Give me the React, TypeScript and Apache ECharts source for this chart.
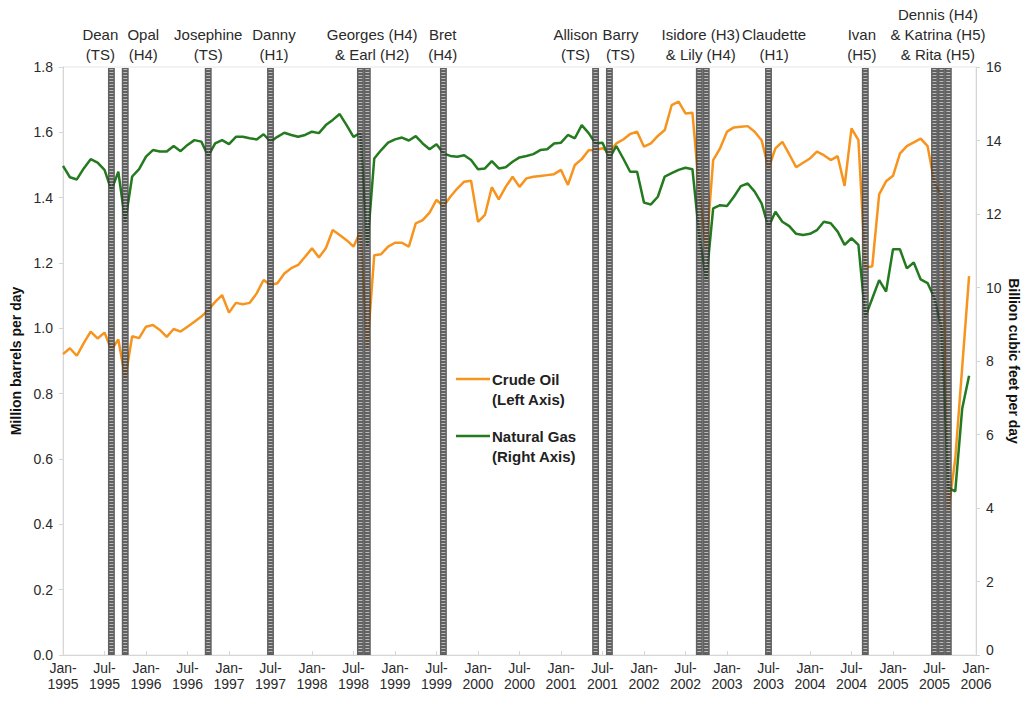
import React, { useEffect, useRef } from "react";
import * as echarts from "echarts";

const START_YEAR = 1995;
const X_MAX_MONTH = 132; // Jan-2006

// Monthly production, Jan-1995 .. Dec-2005
const crudeOil = [
  0.921, 0.939, 0.916, 0.955, 0.99, 0.969, 0.987, 0.934, 0.966, 0.847, 0.976, 0.97,
  1.005, 1.01, 0.995, 0.974, 0.998, 0.99, 1.005, 1.02, 1.036, 1.056, 1.081, 1.102,
  1.048, 1.078, 1.074, 1.078, 1.107, 1.148, 1.133, 1.138, 1.168, 1.184, 1.194, 1.219,
  1.245, 1.217, 1.245, 1.301, 1.286, 1.27, 1.25, 1.296, 0.939, 1.224, 1.227, 1.25,
  1.262, 1.262, 1.25, 1.321, 1.331, 1.354, 1.393, 1.374, 1.403, 1.428, 1.449, 1.452,
  1.326, 1.347, 1.432, 1.395, 1.433, 1.464, 1.433, 1.459, 1.464, 1.466, 1.469, 1.472,
  1.485, 1.439, 1.5, 1.518, 1.545, 1.546, 1.551, 1.54, 1.566, 1.578, 1.595, 1.602,
  1.556, 1.566, 1.589, 1.607, 1.683, 1.694, 1.658, 1.66, 1.42, 1.24, 1.515, 1.551,
  1.602, 1.615, 1.617, 1.619, 1.602, 1.576, 1.49, 1.551, 1.571, 1.533, 1.493, 1.507,
  1.52, 1.541, 1.53, 1.515, 1.527, 1.436, 1.612, 1.576, 1.185, 1.19, 1.41, 1.45,
  1.467, 1.535, 1.558, 1.569, 1.581, 1.558, 1.443, 1.408, 0.44, 0.6, 0.88, 1.16,
];

const naturalGas = [
  13.31, 13.0, 12.94, 13.24, 13.49, 13.4, 13.2, 12.65, 13.15, 11.79, 13.02, 13.22,
  13.56, 13.74, 13.7, 13.7, 13.85, 13.71, 13.88, 14.01, 13.97, 13.58, 13.92, 14.01,
  13.9, 14.1, 14.1, 14.06, 14.03, 14.17, 13.97, 14.1, 14.21, 14.15, 14.1, 14.15,
  14.24, 14.2, 14.42, 14.56, 14.72, 14.42, 14.1, 14.21, 11.11, 13.51, 13.74, 13.94,
  14.03, 14.08, 14.0, 14.12, 13.92, 13.76, 13.9, 13.65, 13.58, 13.56, 13.6, 13.47,
  13.22, 13.24, 13.44, 13.24, 13.27, 13.42, 13.54, 13.58, 13.63, 13.74, 13.76, 13.92,
  13.94, 14.15, 14.06, 14.42, 14.2, 13.92, 13.94, 13.51, 13.85, 13.51, 13.15, 13.15,
  12.31, 12.26, 12.47, 13.02, 13.11, 13.2, 13.26, 13.22, 11.4, 10.2, 12.15, 12.24,
  12.22, 12.47, 12.76, 12.83, 12.61, 12.29, 11.65, 12.06, 11.79, 11.67, 11.46, 11.43,
  11.46, 11.56, 11.79, 11.75, 11.52, 11.16, 11.34, 11.16, 9.2, 9.7, 10.2, 9.89,
  11.04, 11.04, 10.52, 10.68, 10.22, 10.12, 9.71, 8.9, 4.55, 4.45, 6.7, 7.6,
];

// Months (index from Jan-1995) hit by a storm
const hurricaneMonths = [7, 9, 21, 30, 43, 44, 55, 77, 79, 92, 93, 102, 116, 126, 127, 128];

// Storm annotations: where (in months) each label is centred, and its text
const hurricaneLabelMonths = [5.4, 11.6, 21.0, 30.5, 44.7, 54.9, 74.1, 80.6, 92.2, 102.8, 115.5, 126.5];
const hurricaneLabelTexts = [
  "Dean\n(TS)",
  "Opal\n(H4)",
  "Josephine\n(TS)",
  "Danny\n(H1)",
  "Georges (H4)\n& Earl (H2)",
  "Bret\n(H4)",
  "Allison\n(TS)",
  "Barry\n(TS)",
  "Isidore (H3)\n& Lily (H4)",
  "Claudette\n(H1)",
  "Ivan\n(H5)",
  "Dennis (H4)\n& Katrina (H5)\n& Rita (H5)",
];

const xTickMonthNames = ["Jan-", "Jul-"];

const FONT = "'Liberation Sans', Arial, Helvetica, sans-serif";
const OIL_COLOR = "#F7941E";
const GAS_COLOR = "#237A1F";
const AXIS_GRAY = "#d6d6d6";
const TEXT_COLOR = "#2a2a2a";

export default function App() {
  const ref = useRef<HTMLDivElement>(null);

  useEffect(() => {
    if (!ref.current) return;
    const chart = echarts.init(ref.current, undefined, { renderer: "svg" });

    const option = {
      animation: false,
      backgroundColor: "#ffffff",
      textStyle: { fontFamily: FONT },
      grid: {
        left: 63,
        right: 49,
        top: 67,
        bottom: 54,
        show: true,
        borderColor: "#e6e6e6",
        borderWidth: 1,
        containLabel: false,
        outerBoundsMode: "none",
      },
      xAxis: {
        type: "value",
        min: 0,
        max: X_MAX_MONTH,
        interval: 6,
        axisLine: { show: true, lineStyle: { color: AXIS_GRAY } },
        axisTick: { show: true, inside: true, length: 4, lineStyle: { color: AXIS_GRAY } },
        splitLine: { show: false },
        axisLabel: {
          color: TEXT_COLOR,
          fontSize: 14,
          fontFamily: FONT,
          lineHeight: 16,
          margin: 5,
          formatter: (v: number) => {
            const name = xTickMonthNames[(v % 12) / 6];
            const year = START_YEAR + Math.floor(v / 12);
            return name + "\n" + year;
          },
        },
      },
      yAxis: [
        {
          type: "value",
          min: 0,
          max: 1.8,
          interval: 0.2,
          name: "Million barrels per day",
          nameLocation: "middle",
          nameRotate: 90,
          nameGap: 39,
          nameTextStyle: { color: "#111", fontWeight: "bold", fontSize: 14, fontFamily: FONT },
          axisLine: { show: true, lineStyle: { color: AXIS_GRAY } },
          axisTick: { show: true, length: 4, lineStyle: { color: AXIS_GRAY } },
          splitLine: { show: false },
          axisLabel: {
            color: TEXT_COLOR,
            fontSize: 14,
            fontFamily: FONT,
            margin: 10,
            formatter: (v: number) => v.toFixed(1),
          },
        },
        {
          type: "value",
          min: 0,
          max: 16,
          interval: 2,
          name: "Billion cubic feet per day",
          nameLocation: "middle",
          nameRotate: -90,
          nameGap: 31,
          nameMoveOverlap: false,
          nameTextStyle: { color: "#111", fontWeight: "bold", fontSize: 14, fontFamily: FONT },
          axisLine: { show: true, lineStyle: { color: AXIS_GRAY } },
          axisTick: { show: true, length: 4, lineStyle: { color: AXIS_GRAY } },
          splitLine: { show: false },
          axisLabel: {
            color: TEXT_COLOR,
            fontSize: 14,
            fontFamily: FONT,
            margin: 10,
            formatter: (v: number) => (v === 0 ? "{z|0}" : String(v)),
            rich: {
              z: { fontSize: 14, fontFamily: FONT, color: TEXT_COLOR, padding: [0, 0, 10, 0] },
            },
          },
        },
      ],
      series: [
        {
          name: "Crude Oil",
          type: "line",
          yAxisIndex: 0,
          data: crudeOil.map((v, i) => [i, v]),
          showSymbol: false,
          symbol: "none",
          lineStyle: { color: OIL_COLOR, width: 2.5 },
          z: 2,
        },
        {
          name: "Natural Gas",
          type: "line",
          yAxisIndex: 1,
          data: naturalGas.map((v, i) => [i, v]),
          showSymbol: false,
          symbol: "none",
          lineStyle: { color: GAS_COLOR, width: 2.5 },
          z: 2,
        },
        {
          name: "Hurricanes",
          type: "custom",
          yAxisIndex: 0,
          z: 3,
          data: hurricaneMonths.map((m) => [m, 0]),
          encode: { x: 0, y: 1 },
          renderItem: (params: any, api: any) => {
            const m = api.value(0);
            const tl = api.coord([m - 0.5, 1.8]);
            const br = api.coord([m + 0.5, 0]);
            const w = br[0] - tl[0];
            const h = br[1] - tl[1];
            const children: any[] = [
              {
                type: "rect",
                shape: { x: tl[0], y: tl[1] + 1, width: w, height: h - 1 },
                style: { fill: "#3a3a3a", opacity: 0.8 },
              },
            ];
            for (let y = tl[1] + 2.5; y < br[1] - 1; y += 3) {
              children.push({
                type: "line",
                shape: { x1: tl[0] + 1.5, y1: y, x2: br[0] - 1.5, y2: y },
                style: { stroke: "#d8d8d8", lineWidth: 1, opacity: 0.75 },
              });
            }
            return { type: "group", children };
          },
        },
        {
          name: "HurricaneLabels",
          type: "custom",
          yAxisIndex: 0,
          z: 4,
          clip: false,
          data: hurricaneLabelMonths.map((m) => [m, 1.8]),
          encode: { x: 0, y: 1 },
          renderItem: (params: any, api: any) => {
            const p = api.coord([api.value(0), 1.8]);
            return {
              type: "text",
              x: p[0],
              y: p[1] - 3,
              style: {
                text: hurricaneLabelTexts[params.dataIndex],
                align: "center",
                verticalAlign: "bottom",
                lineHeight: 20,
                fontSize: 15,
                fontFamily: FONT,
                fill: TEXT_COLOR,
              },
            };
          },
        },
      ],
      graphic: [
        {
          type: "line",
          shape: { x1: 456, y1: 379, x2: 490, y2: 379 },
          style: { stroke: OIL_COLOR, lineWidth: 2.5 },
        },
        {
          type: "text",
          x: 492,
          y: 369,
          style: {
            text: "Crude Oil\n(Left Axis)",
            fontSize: 15,
            fontWeight: "bold",
            fontFamily: FONT,
            lineHeight: 20,
            fill: "#222",
            verticalAlign: "top",
          },
        },
        {
          type: "line",
          shape: { x1: 456, y1: 436, x2: 490, y2: 436 },
          style: { stroke: GAS_COLOR, lineWidth: 2.5 },
        },
        {
          type: "text",
          x: 492,
          y: 426,
          style: {
            text: "Natural Gas\n(Right Axis)",
            fontSize: 15,
            fontWeight: "bold",
            fontFamily: FONT,
            lineHeight: 20,
            fill: "#222",
            verticalAlign: "top",
          },
        },
      ],
    };

    chart.setOption(option as any);
    return () => chart.dispose();
  }, []);

  return <div ref={ref} style={{ width: 1025, height: 709, position: "absolute", left: 0, top: 0 }} />;
}
